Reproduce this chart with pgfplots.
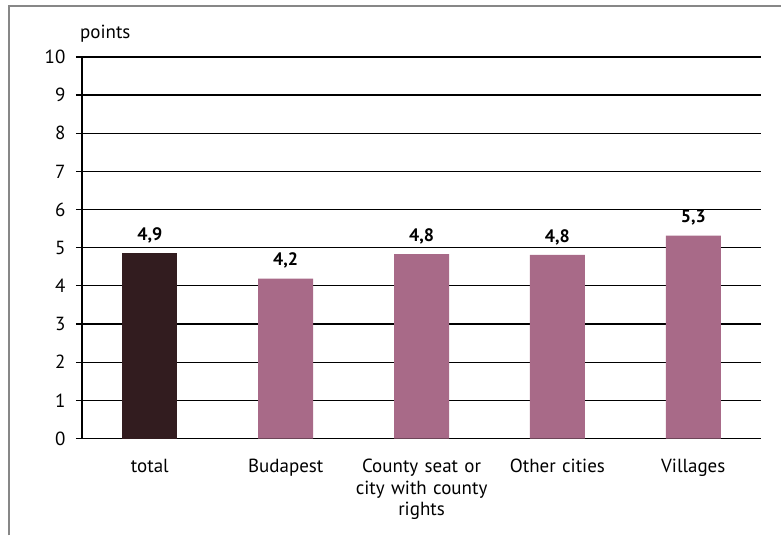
\documentclass[border=0pt]{standalone}
\usepackage{pgfplots}
\pgfplotsset{compat=1.18}
\usepackage{pgfplotstable}
\usepackage{fontspec}
\setmainfont{PT Sans}
\definecolor{darkbar}{RGB}{50,28,31}
\definecolor{mauvebar}{RGB}{168,106,136}
\definecolor{framegray}{RGB}{135,135,135}
\pgfplotstableread{
x y lab
0 4.85 {4,9}
}\totaltab
\pgfplotstableread{
x y lab
1 4.19 {4,2}
2 4.83 {4,8}
3 4.81 {4,8}
4 5.32 {5,3}
}\othertab
\begin{document}
\begin{tikzpicture}
\begin{axis}[
  at={(0pt,0pt)}, anchor=south west,
  scale only axis, width=680pt, height=382pt,
  xmin=-0.5, xmax=4.5, ymin=0, ymax=10,
  axis x line*=bottom, axis y line*=left,
  axis line style={black, line width=1.2pt, -},
  ytick={0,...,10},
  ymajorgrids, major grid style={black, line width=1.2pt},
  xtick={0,...,4},
  xticklabels={total,Budapest,{County seat or\\city with county\\rights},Other cities,Villages},
  minor xtick={-0.5,0.5,...,4.5},
  xtick style={draw=none},
  minor x tick style={black, line width=1.2pt},
  ytick style={black, line width=1.2pt},
  tick align=outside,
  major tick length=6pt, minor tick length=7pt,
  /pgf/number format/assume math mode=true,
  tick label style={font=\fontsize{19}{21.5}\selectfont},
  xticklabel style={align=center, text width=150pt, yshift=-11pt},
  yticklabel style={xshift=-7pt},
  ybar, bar width=55pt,
  point meta=explicit symbolic,
  nodes near coords,
  every node near coord/.append style={font=\fontsize{18}{20}\selectfont\bfseries, anchor=base, inner sep=0pt, yshift=13pt},
  clip=false,
]
\addplot[fill=darkbar, draw=none, bar shift=0pt] table[x=x, y=y, meta=lab] {\totaltab};
\addplot[fill=mauvebar, draw=none, bar shift=0pt] table[x=x, y=y, meta=lab] {\othertab};
\node[anchor=base west, inner sep=0pt, font=\fontsize{19}{21.5}\selectfont] at ([xshift=-2pt, yshift=18pt]rel axis cs:0,1) {points};
\end{axis}
\draw[framegray, line width=1.6pt] (-73pt,-97pt) -- (-73pt,433pt) -- (700pt,433pt);
\useasboundingbox (-82pt,-97pt) rectangle (700pt,439pt);
\end{tikzpicture}
\end{document}
